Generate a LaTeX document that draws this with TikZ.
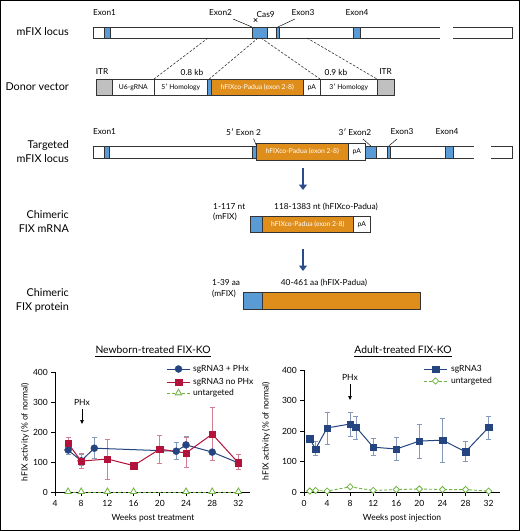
\documentclass[tikz,border=0pt]{standalone}
\usepackage{fontspec}
\setmainfont{Lato}
\usetikzlibrary{shapes.geometric,arrows.meta}
\definecolor{exblue}{HTML}{5B9BD5}
\definecolor{orng}{HTML}{E08E1B}
\definecolor{itrgray}{HTML}{C0C0C0}
\definecolor{navy}{HTML}{24457F}
\definecolor{crim}{HTML}{B3123A}
\definecolor{grn}{HTML}{6CB33F}
\definecolor{arrblue}{HTML}{2B4C8A}
\tikzset{
  rowlbl/.style={font=\fontsize{10.8}{14}\selectfont, align=right, anchor=east, inner sep=0pt},
  lab/.style={font=\fontsize{8.3}{10}\selectfont, inner sep=0pt},
  boxtxt/.style={font=\fontsize{6.8}{8}\selectfont},
  seg/.style={draw=black!80, line width=0.6pt, rectangle, inner sep=0pt, anchor=north west},
  lead/.style={draw=black, line width=0.45pt},
  hom/.style={draw=black!85, line width=0.55pt, dash pattern=on 2.5pt off 1.6pt},
  bigarrow/.style={draw=arrblue, line width=2.6pt, -{Triangle[width=8pt,length=5.5pt]}},
  tk/.style={font=\fontsize{8.5}{10}\selectfont, inner sep=0pt},
  axisline/.style={line width=0.9pt, black},
  bcirc/.style={circle, fill=navy, draw=navy, inner sep=0pt, minimum size=7pt},
  rsq/.style={rectangle, fill=crim, draw=crim, inner sep=0pt, minimum size=6.5pt},
  nsq/.style={rectangle, fill=navy, draw=navy, inner sep=0pt, minimum size=6.5pt},
  gtri/.style={regular polygon, regular polygon sides=3, draw=grn, fill=white, line width=0.8pt, inner sep=0pt, minimum size=7.5pt},
  gdia/.style={diamond, draw=grn, fill=white, line width=0.8pt, inner sep=0pt, minimum size=6.5pt},
  ebar/.style={line width=0.8pt},
  phx/.style={line width=0.7pt, -{Triangle[width=3.5pt,length=4pt]}},
}
\begin{document}
\begin{tikzpicture}[x=1pt,y=-1pt]
\useasboundingbox (0,0) rectangle (520,531);
\fill[white] (0,0) rectangle (520,531);
\draw[line width=1.2pt] (0.6,0.6) rectangle (519.4,530.4);

% ---------- Row 1: mFIX locus ----------
\node[rowlbl] (r1) at (69,32) {mFIX locus};
\fill[white] (93,27) rectangle (440,38);
\draw[line width=0.6pt,black!80] (440,27) -- (93,27) -- (93,38) -- (440,38);
\fill[white] (453,27) rectangle (512,38);
\draw[line width=0.6pt,black!80] (453,27) -- (512,27) -- (512,38) -- (453,38);
\node[seg, fill=exblue, minimum width=6, minimum height=11] (ex1) at (104,27) {};
\node[seg, fill=exblue, minimum width=15, minimum height=11] (ex2) at (252,27) {};
\node[seg, fill=exblue, minimum width=3, minimum height=11] (ex3) at (276,27) {};
\node[seg, fill=exblue, minimum width=7, minimum height=11] (ex4) at (353,27) {};
\node[lab] (l1) at (104.5,12.5) {Exon1};
\node[lab] (l2) at (220.5,12.5) {Exon2};
\node[lab, anchor=west] (lc) at (256.5,14.5) {Cas9};
\node[lab] (l3) at (303,12.5) {Exon3};
\node[lab] (l4) at (357,12.5) {Exon4};
\coordinate (c2) at (233,19);
\coordinate (c3) at (295,19);
\draw[lead] (c2) -- (ex2.north west);
\draw[lead] (c3) -- (ex3.north);
\coordinate (sc) at (255.5,20);
\draw[line width=0.5pt] ([shift={(-1.8pt,-1.8pt)}]sc) -- ([shift={(1.8pt,1.8pt)}]sc) ([shift={(-1.8pt,1.8pt)}]sc) -- ([shift={(1.8pt,-1.8pt)}]sc);

% ---------- Row 2: donor vector ----------
\node[rowlbl] (r2) at (69,87) {Donor vector};
\node[seg, fill=itrgray, minimum width=16, minimum height=16] (itrL) at (96,79) {};
\node[seg, fill=white, minimum width=42, minimum height=16, boxtxt] (u6) at (112,79) {U6-gRNA};
\node[seg, fill=white, minimum width=53, minimum height=16, boxtxt] (h5) at (154,79) {5′ Homology};
\node[seg, fill=exblue, minimum width=4, minimum height=16] (bl) at (207,79) {};
\node[seg, fill=orng, minimum width=92, minimum height=16, boxtxt, text=white] (hf) at (211,79) {hFIXco-Padua (exon 2-8)};
\node[seg, fill=white, minimum width=17, minimum height=16, boxtxt] (pa) at (303,79) {pA};
\node[seg, fill=white, minimum width=57, minimum height=16, boxtxt] (h3) at (320,79) {3′ Homology};
\node[seg, fill=itrgray, minimum width=17, minimum height=16] (itrR) at (377,79) {};
\node[lab] (itr1) at (102,72) {ITR};
\node[lab] (itr2) at (385.5,72) {ITR};
\node[lab] (kb8) at (192,72) {0.8 kb};
\node[lab] (kb9) at (336,72) {0.9 kb};
\coordinate (d1) at (208,38);
\coordinate (d2) at (258,38);
\coordinate (d3) at (261,38);
\coordinate (d4) at (307,38);
\draw[hom] (d1) -- (h5.north west);
\draw[hom] (d2) -- (bl.north);
\draw[hom] (d3) -- (h3.north west);
\draw[hom] (d4) -- (itrR.north west);

% ---------- Row 3: targeted locus ----------
\node[rowlbl] (r3) at (69,152) {Targeted\\mFIX locus};
\fill[white] (93,146) rectangle (474,158);
\draw[line width=0.6pt,black!80] (474,146) -- (93,146) -- (93,158) -- (474,158);
\fill[white] (491,146) rectangle (512,158);
\draw[line width=0.6pt,black!80] (491,146) -- (512,146) -- (512,158) -- (491,158);
\node[seg, fill=exblue, minimum width=5, minimum height=12] (tex1) at (104,146) {};
\node[seg, fill=exblue, minimum width=4, minimum height=12] (tex2a) at (252,146) {};
\node[seg, fill=orng, minimum width=92, minimum height=17, boxtxt, text=white] (thf) at (256,143) {hFIXco-Padua (exon 2-8)};
\node[seg, fill=white, minimum width=17, minimum height=17, boxtxt] (tpa) at (348,143) {pA};
\node[seg, fill=exblue, minimum width=11, minimum height=12] (tex2b) at (365,146) {};
\node[seg, fill=exblue, minimum width=3, minimum height=12] (tex3) at (387,146) {};
\node[seg, fill=exblue, minimum width=8, minimum height=12] (tex4) at (445,146) {};
\node[lab] (tl1) at (104.5,132) {Exon1};
\node[lab, anchor=west] (tl2a) at (226,132) {5′ Exon 2};
\node[lab] (tl2b) at (355,132) {3′ Exon2};
\node[lab] (tl3) at (402,132) {Exon3};
\node[lab] (tl4) at (447,132) {Exon4};
\coordinate (t2a) at (253.5,138.5);
\coordinate (t2b) at (363,139);
\coordinate (t3) at (397,139);
\draw[lead] (t2a) -- (tex2a.north east);
\draw[lead] (t2b) -- (tex2b.north);
\draw[lead] (t3) -- (tex3.north);

\coordinate (a1s) at (303,168);
\coordinate (a1e) at (303,190);
\draw[bigarrow] (a1s) -- (a1e);

% ---------- Row 4: mRNA ----------
\node[rowlbl] (r4) at (69,222) {Chimeric\\FIX mRNA};
\node[seg, fill=exblue, minimum width=12, minimum height=16] (mb) at (250,216) {};
\node[seg, fill=orng, minimum width=91, minimum height=16, boxtxt, text=white] (mo) at (262,216) {hFIXco-Padua (exon 2-8)};
\node[seg, fill=white, minimum width=17, minimum height=16, boxtxt] (mpa) at (353,216) {pA};
\node[lab, anchor=west, align=left, font=\fontsize{8.3}{10}\selectfont] (m1) at (213,212) {1-117 nt\\(mFIX)};
\node[lab] (m2) at (326,207) {118-1383 nt (hFIXco-Padua)};

\coordinate (a2s) at (303,249);
\coordinate (a2e) at (303,271);
\draw[bigarrow] (a2s) -- (a2e);

% ---------- Row 5: protein ----------
\node[rowlbl] (r5) at (69,300) {Chimeric\\FIX protein};
\node[seg, fill=exblue, minimum width=19, minimum height=17] (pb) at (243,292) {};
\node[seg, fill=orng, minimum width=158, minimum height=17] (po) at (262,292) {};
\node[lab, anchor=west, align=left, font=\fontsize{8.3}{11}\selectfont] (p1) at (212,288.5) {1-39 aa\\(mFIX)};
\node[lab] (p2) at (324,283) {40-461 aa (hFIX-Padua)};

% ---------- Left chart ----------
\node[font=\fontsize{10.3}{12}\selectfont, inner sep=0pt] (tL) at (153,350) {Newborn-treated FIX-KO};
\draw[line width=0.5pt] ([yshift=-2pt]tL.south west) -- ([yshift=-2pt]tL.south east);
\node[tk, rotate=90] (yL) at (25,432) {hFIX activity (\% of normal)};
\node[tk] (xL) at (153,518) {Weeks post treatment};
\begin{scope}[shift={(28.8,492)}, x=6.55pt, y=0.3pt]
  \draw[axisline] (4,400) -- (4,0) -- (33.8,0);
  \foreach \v in {0,100,...,400} {
    \draw[axisline] (4,\v) -- ++(-4.5pt,0);
    \node[tk, anchor=east] (yt\v) at ([xshift=-7pt]4,\v) {\v};
  }
  \foreach \w in {4,8,...,32} {
    \draw[axisline] (\w,0) -- ++(0,-4pt);
    \node[tk, anchor=north] (xt\w) at ([yshift=-8.5pt]\w,0) {\w};
  }
  % green untargeted
  \draw[grn, line width=0.9pt, dash pattern=on 3pt off 2pt] (6,0) -- (32,0);
  \foreach \w [count=\i] in {6,8,12,16,24,28,32} \node[gtri] (g\i) at (\w,1) {};
  % error bars blue
  \foreach \w/\lo/\hi in {6/124/155,8/90/127,10/113/182,22.5/108/167,24/130/185,32/88/106} {
    \draw[ebar, navy!55] (\w,\lo) -- (\w,\hi);
    \draw[ebar, navy!55] ([xshift=-2.5pt]\w,\lo) -- ([xshift=2.5pt]\w,\lo);
    \draw[ebar, navy!55] ([xshift=-2.5pt]\w,\hi) -- ([xshift=2.5pt]\w,\hi);
  }
  % error bars red
  \foreach \w/\lo/\hi in {6/143/182,8/78/130,12/43/175,20/97/188,24/83/183,28/105/283,32/75/125} {
    \draw[ebar, crim!55] (\w,\lo) -- (\w,\hi);
    \draw[ebar, crim!55] ([xshift=-2.5pt]\w,\lo) -- ([xshift=2.5pt]\w,\lo);
    \draw[ebar, crim!55] ([xshift=-2.5pt]\w,\hi) -- ([xshift=2.5pt]\w,\hi);
  }
  \draw[navy, line width=1pt] (6,140) -- (8,104) -- (10,146) -- (22.5,136) -- (24,157) -- (28,133) -- (32,97);
  \draw[crim, line width=1pt] (6,162) -- (8,103) -- (12,110) -- (16,88) -- (20,143) -- (24,130) -- (28,193) -- (32,97);
  \foreach \w/\v [count=\i] in {6/140,8/104,10/146,22.5/136,24/157,28/133,32/97} \node[bcirc] (bc\i) at (\w,\v) {};
  \foreach \w/\v [count=\i] in {6/162,8/103,12/110,16/88,20/143,24/130,28/193,32/97} \node[rsq] (rs\i) at (\w,\v) {};
\end{scope}
% left legend
\coordinate (lgA1) at (167,369); \coordinate (lgA2) at (190,369);
\draw[navy, line width=1pt] (lgA1) -- (lgA2);
\node[bcirc] (lga) at (178.5,369) {};
\node[tk, anchor=west] (lgat) at (193,369) {sgRNA3 + PHx};
\coordinate (lgB1) at (167,382); \coordinate (lgB2) at (190,382);
\draw[crim, line width=1pt] (lgB1) -- (lgB2);
\node[rsq] (lgb) at (178.5,382) {};
\node[tk, anchor=west] (lgbt) at (193,382) {sgRNA3 no PHx};
\coordinate (lgC1) at (167,393.5); \coordinate (lgC2) at (190,393.5);
\draw[grn, line width=0.9pt, dash pattern=on 3pt off 2pt] (lgC1) -- (lgC2);
\node[gtri] (lgc) at (178.5,393) {};
\node[tk, anchor=west] (lgct) at (193,393) {untargeted};
% PHx left
\node[tk] (phL) at (82,402) {PHx};
\coordinate (phLs) at (82,409); \coordinate (phLe) at (82,424);
\draw[phx] (phLs) -- (phLe);

% ---------- Right chart ----------
\node[font=\fontsize{10.3}{12}\selectfont, inner sep=0pt] (tR) at (403,350) {Adult-treated FIX-KO};
\draw[line width=0.5pt] ([yshift=-2pt]tR.south west) -- ([yshift=-2pt]tR.south east);
\node[tk, rotate=90] (yR) at (266,431) {hFIX activity (\% of normal)};
\node[tk] (xR) at (402,518) {Weeks post injection};
\begin{scope}[shift={(304,492)}, x=5.77pt, y=0.305pt]
  \draw[axisline] (0,400) -- (0,0) -- (34,0);
  \foreach \v in {0,100,...,400} {
    \draw[axisline] (0,\v) -- ++(-4.5pt,0);
    \node[tk, anchor=east] (ryt\v) at ([xshift=-7pt]0,\v) {\v};
  }
  \foreach \w in {0,4,...,32} {
    \draw[axisline] (\w,0) -- ++(0,-4pt);
    \node[tk, anchor=north] (rxt\w) at ([yshift=-8.5pt]\w,0) {\w};
  }
  \draw[grn, line width=0.9pt, dash pattern=on 3pt off 2pt] (1,3) -- (2,5) -- (4,3) -- (8,17) -- (12,5) -- (16,8) -- (20,10) -- (24,8) -- (28,8) -- (32,3);
  \foreach \w/\v [count=\i] in {1/3,2/5,4/3,8/17,12/5,16/8,20/10,24/8,28/8,32/3} \node[gdia] (gd\i) at (\w,\v) {};
  \foreach \w/\lo/\hi in {1/165/180,2/120/165,4/155/262,8/183/262,9/173/248,12/120/175,16/103/180,20/110/222,24/97/240,28/100/165,32/173/248} {
    \draw[ebar, navy!55] (\w,\lo) -- (\w,\hi);
    \draw[ebar, navy!55] ([xshift=-2.5pt]\w,\lo) -- ([xshift=2.5pt]\w,\lo);
    \draw[ebar, navy!55] ([xshift=-2.5pt]\w,\hi) -- ([xshift=2.5pt]\w,\hi);
  }
  \draw[navy, line width=1pt] (1,174) -- (2,141) -- (4,210) -- (8,223) -- (9,213) -- (12,147) -- (16,141) -- (20,167) -- (24,170) -- (28,132) -- (32,212);
  \foreach \w/\v [count=\i] in {1/174,2/141,4/210,8/223,9/213,12/147,16/141,20/167,24/170,28/132,32/212} \node[nsq] (ns\i) at (\w,\v) {};
\end{scope}
% right legend
\coordinate (rgA1) at (424,369); \coordinate (rgA2) at (447,369);
\draw[navy, line width=1pt] (rgA1) -- (rgA2);
\node[nsq] (rga) at (435.5,369) {};
\node[tk, anchor=west] (rgat) at (451,369) {sgRNA3};
\coordinate (rgB1) at (424,381); \coordinate (rgB2) at (447,381);
\draw[grn, line width=0.9pt, dash pattern=on 3pt off 2pt] (rgB1) -- (rgB2);
\node[gdia] (rgb) at (435.5,381) {};
\node[tk, anchor=west] (rgbt) at (451,381) {untargeted};
% PHx right
\node[tk] (phR) at (350,377) {PHx};
\coordinate (phRs) at (350,384); \coordinate (phRe) at (350,400);
\draw[phx] (phRs) -- (phRe);
\end{tikzpicture}
\end{document}
